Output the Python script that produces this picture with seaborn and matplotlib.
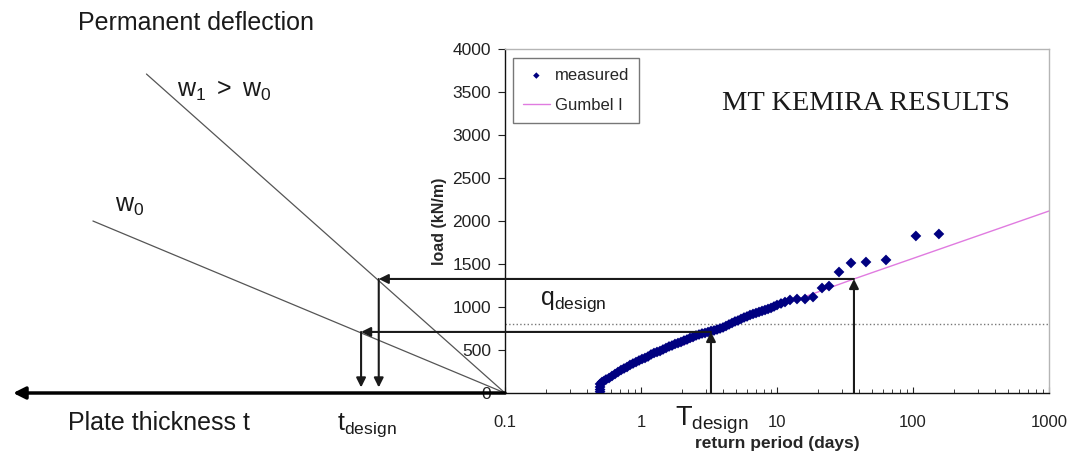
import numpy as np
import matplotlib
matplotlib.use("Agg")
import matplotlib.pyplot as plt
from matplotlib.ticker import LogLocator, NullFormatter
import seaborn as sns

# measured storm loads: return period (days) and load (kN/m)
period_days = [0.50, 0.50, 0.50, 0.50,
               0.517, 0.535, 0.553, 0.582, 0.612, 0.644, 0.677, 0.713, 0.750, 0.789,
               0.830, 0.873, 0.919, 0.967, 1.017, 1.070, 1.126, 1.185, 1.246, 1.311,
               1.380, 1.451, 1.527, 1.607, 1.690, 1.778, 1.871, 1.968, 2.071, 2.179,
               2.293, 2.412, 2.538, 2.670, 2.809, 2.956, 3.110, 3.272, 3.443, 3.622,
               3.811, 4.010, 4.217, 4.437, 4.668, 4.912, 5.168, 5.437, 5.721, 6.019,
               6.333, 6.662, 7.010, 7.375, 7.760, 8.164, 8.589, 9.037, 9.506,
               10.0, 10.7, 11.45, 12.46,
               14.03, 16.07, 18.40, 21.43, 24.12, 28.57, 35.0, 45.1, 63.3, 105, 155]
load_kn = [15, 40, 70, 105,
           128, 140, 157, 174, 198, 221, 244, 267, 285, 302,
           326, 343, 360, 378, 395, 407, 424, 448, 465, 477,
           488, 506, 523, 541, 552, 570, 581, 593, 610, 622,
           640, 651, 669, 680, 692, 698, 709, 721, 727, 738,
           750, 762, 779, 797, 814, 832, 843, 861, 878, 890,
           907, 919, 930, 942, 954, 965, 977, 989, 1006,
           1023, 1041, 1058, 1082,
           1093, 1093, 1116, 1221, 1244, 1407, 1512, 1523, 1547, 1826, 1849]

# Gumbel I fit
gumbel_days = [2, 3.27, 10, 36.8, 100, 1000]
gumbel_load = [553, 706, 1003, 1326, 1565, 2116]

# left sketch: permanent deflection lines (plate thickness t vs load)
w1_t = [0, 7.1]
w1_load = [0, 3709]
w0_t = [0, 8.16]
w0_load = [0, 2000]

# design construction
T_design = [3.27, 36.8]
q_design = [710, 1326]
t_design = [2.85, 2.5]
q_dotted = 800

x_ticks = [0.1, 1, 10, 100, 1000]
x_tick_labels = ["0.1", "1", "10", "100", "1000"]
y_ticks = list(range(0, 4001, 500))

sns.set_style("white")
plt.rcParams["font.family"] = ["Liberation Sans", "DejaVu Sans"]
plt.rcParams["mathtext.fontset"] = "custom"
plt.rcParams["mathtext.rm"] = "Liberation Sans"
plt.rcParams["mathtext.it"] = "Liberation Sans:italic"
plt.rcParams["mathtext.bf"] = "Liberation Sans:bold"

W, H = 1070, 465
fig = plt.figure(figsize=(W / 100, H / 100), dpi=100)
ax = fig.add_axes([505 / W, 1 - 393 / H, 544 / W, 344 / H])
ax_left = fig.add_axes([0, 1 - 393 / H, 505 / W, 344 / H])
ax_left.set_xlim(10, 0)
ax_left.set_ylim(0, 4000)
ax_left.axis("off")
ax_left.patch.set_alpha(0)

# main chart
sns.lineplot(x=gumbel_days, y=gumbel_load, ax=ax, color="#e07be0", lw=1,
             label="Gumbel I", zorder=2)
sns.scatterplot(x=period_days, y=load_kn, ax=ax, marker="D", s=30,
                color="#000080", edgecolor="none", label="measured", zorder=3)
ax.set_xscale("log")
ax.set_xlim(0.1, 1000)
ax.set_ylim(0, 4000)
ax.axhline(q_dotted, color="#777777", ls=":", lw=1, zorder=1)

ax.set_xticks(x_ticks)
ax.set_xticklabels(x_tick_labels)
ax.xaxis.set_minor_locator(LogLocator(base=10, subs=np.arange(2, 10)))
ax.xaxis.set_minor_formatter(NullFormatter())
ax.set_yticks(y_ticks)
ax.tick_params(axis="x", which="both", direction="in", bottom=True, pad=16,
               labelsize=12, colors="#222222")
ax.tick_params(axis="x", which="major", length=4)
ax.tick_params(axis="x", which="minor", length=3)
ax.tick_params(axis="y", direction="out", left=True, length=5, pad=5,
               labelsize=12.5, colors="#222222")
ax.set_xlabel("return period (days)", fontsize=12.5, fontweight="bold", labelpad=4)
ax.set_ylabel("load (kN/m)", fontsize=11.5, fontweight="bold", labelpad=4)

for side in ["top", "right"]:
    ax.spines[side].set_color("#b5b5b5")
    ax.spines[side].set_linewidth(1)
for side in ["left", "bottom"]:
    ax.spines[side].set_color("#111111")
    ax.spines[side].set_linewidth(1)

handles, labels = ax.get_legend_handles_labels()
order = [labels.index("measured"), labels.index("Gumbel I")]
ax.legend([handles[i] for i in order], [labels[i] for i in order],
          loc="upper left", bbox_to_anchor=(0.0147, 0.974), borderaxespad=0,
          frameon=True, fancybox=False, edgecolor="#555555", fontsize=12,
          labelspacing=0.9, handlelength=1.6, handletextpad=0.3, borderpad=0.6,
          markerscale=0.6)

# left sketch lines
ax_left.plot(w1_t, w1_load, color="#555555", lw=0.9)
ax_left.plot(w0_t, w0_load, color="#555555", lw=0.9)
ax_left.annotate("", xy=(9.74, 0), xytext=(0, 0), annotation_clip=False,
                 arrowprops=dict(arrowstyle="-|>", color="black", lw=2.5,
                                 mutation_scale=18, shrinkA=0, shrinkB=0))

arrow_kw = dict(arrowstyle="-|>", color="#1a1a1a", lw=1.5, mutation_scale=14,
                shrinkA=0, shrinkB=0)
for T, q, t in zip(T_design, q_design, t_design):
    ax.annotate("", xy=(T, q), xytext=(T, 0), arrowprops=arrow_kw,
                annotation_clip=False)
    ax_left.annotate("", xy=(t, q), xytext=(T, q), textcoords=ax.transData,
                     arrowprops=arrow_kw, annotation_clip=False)
    ax_left.annotate("", xy=(t, 0), xytext=(t, q), annotation_clip=False,
                     arrowprops=dict(arrow_kw, shrinkB=4))


def fig_text(x, y, s, **kw):
    fig.text(x / W, 1 - y / H, s, va="baseline", ha="left", color="#1a1a1a", **kw)


fig_text(78, 30, "Permanent deflection", fontsize=18)
fig_text(177, 97, r"$\mathregular{w_1\ >\ w_0}$", fontsize=18)
fig_text(115, 212, r"$\mathregular{w_0}$", fontsize=18)
fig_text(68, 430, "Plate thickness t", fontsize=18)
fig_text(337, 430, r"$\mathregular{t_{design}}$", fontsize=18)
fig_text(540, 305, r"$\mathregular{q_{design}}$", fontsize=18)
fig_text(675, 425, r"$\mathregular{T_{design}}$", fontsize=19.5)
fig_text(722, 110, "MT KEMIRA RESULTS", fontsize=20.5, family="Liberation Serif")

fig.savefig("out.png", dpi=100)
